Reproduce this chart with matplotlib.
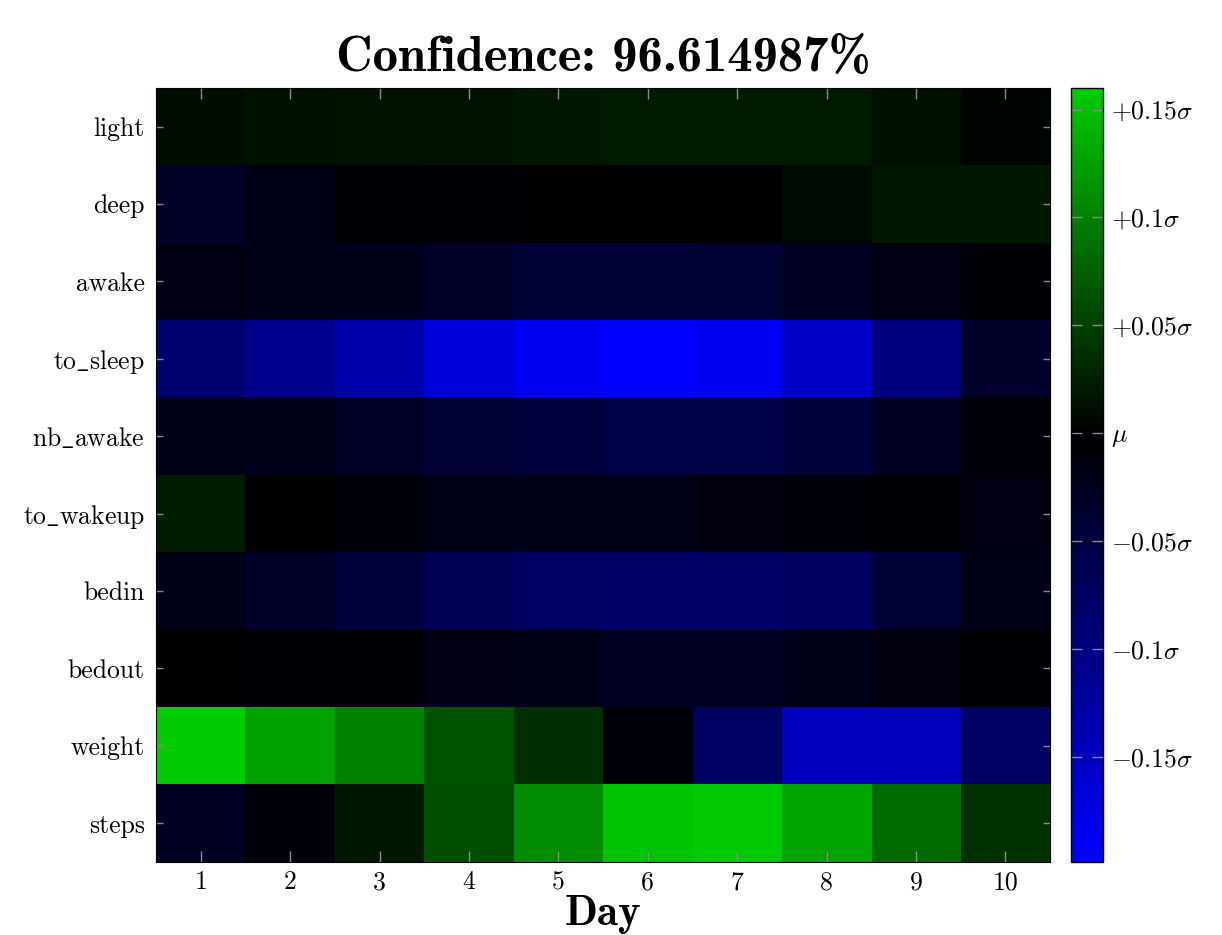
"""Sleep/activity deviation heatmap: per-feature deviation from mean over 10 days."""

import matplotlib

matplotlib.use("Agg")
import matplotlib.pyplot as plt  # noqa: E402
import numpy as np  # noqa: E402
from matplotlib.colors import LinearSegmentedColormap, Normalize  # noqa: E402

plt.rcParams["font.family"] = ["cmr10", "DejaVu Serif"]
plt.rcParams["mathtext.fontset"] = "cm"
plt.rcParams["axes.unicode_minus"] = False

TITLE = "Confidence: 96.614987%"
DAYS = [1, 2, 3, 4, 5, 6, 7, 8, 9, 10]
FEATURES = ["light", "deep", "awake", "to_sleep", "nb_awake",
            "to_wakeup", "bedin", "bedout", "weight", "steps"]

# deviation from the mean, in units of sigma (rows follow FEATURES)
light = [0.009, 0.014, 0.0155, 0.0155, 0.0195, 0.020, 0.021, 0.021, 0.014, 0.004]
deep = [-0.031, -0.017, -0.006, -0.003, -0.002, -0.002, -0.002, 0.008, 0.0195, 0.0195]
awake = [-0.014, -0.017, -0.023, -0.035, -0.043, -0.043, -0.039, -0.027, -0.014, -0.006]
to_sleep = [-0.086, -0.109, -0.133, -0.168, -0.191, -0.1986, -0.191, -0.156, -0.098, -0.035]
nb_awake = [-0.0195, -0.023, -0.030, -0.039, -0.048, -0.055, -0.055, -0.047, -0.027, -0.009]
to_wakeup = [0.022, -0.001, -0.009, -0.017, -0.020, -0.017, -0.012, -0.008, -0.003, -0.014]
bedin = [-0.017, -0.031, -0.047, -0.066, -0.078, -0.082, -0.082, -0.074, -0.043, -0.017]
bedout = [-0.002, -0.003, -0.006, -0.014, -0.0195, -0.025, -0.026, -0.023, -0.012, -0.004]
weight = [0.160, 0.125, 0.100, 0.066, 0.037, -0.008, -0.078, -0.148, -0.148, -0.078]
steps = [-0.027, -0.009, 0.0195, 0.061, 0.109, 0.152, 0.156, 0.129, 0.082, 0.039]

CBAR_TICKS = [0.15, 0.1, 0.05, 0.0, -0.05, -0.1, -0.15]
CBAR_LABELS = [r"$+0.15\sigma$", r"$+0.1\sigma$", r"$+0.05\sigma$", r"$\mu$",
               r"$-0.05\sigma$", r"$-0.1\sigma$", r"$-0.15\sigma$"]


def _tex_label(name: str) -> str:
    # cmr10 has no real underscore glyph, so go through mathtext like LaTeX's \_
    if "_" not in name:
        return name
    return "$" + r"\_".join(r"\mathrm{%s}" % p for p in name.split("_")) + "$"


def main() -> None:
    data = np.array([light, deep, awake, to_sleep, nb_awake,
                     to_wakeup, bedin, bedout, weight, steps])
    vmin, vmax = data.min(), data.max()
    m = max(abs(vmin), vmax)
    zero = -vmin / (vmax - vmin)
    cmap = LinearSegmentedColormap.from_list(
        "blue_black_green",
        [(0.0, (0, 0, abs(vmin) / m)), (zero, (0, 0, 0)), (1.0, (0, vmax / m, 0))],
    )
    norm = Normalize(vmin=vmin, vmax=vmax)

    fig = plt.figure(figsize=(12.22, 9.35), dpi=100)
    ax = fig.add_axes([0.1277, 0.0781, 0.7316, 0.8278])
    cax = fig.add_axes([0.8764, 0.0781, 0.0262, 0.8278])

    im = ax.imshow(data, cmap=cmap, norm=norm, aspect="auto", interpolation="nearest")

    ax.set_xticks(np.arange(len(DAYS)))
    ax.set_xticklabels([str(d) for d in DAYS], fontsize=18.5)
    ax.set_yticks(np.arange(len(FEATURES)))
    ax.set_yticklabels([_tex_label(f) for f in FEATURES], fontsize=18.5)
    ax.tick_params(axis="x", direction="in", length=8, width=1, color="#8a8a8a",
                   top=True, bottom=True, pad=6)
    ax.tick_params(axis="y", direction="in", length=5, width=1, color="#8a8a8a",
                   left=True, right=True, pad=8)
    ax.set_xlabel("Day", family="cmb10", fontsize=31, labelpad=1)
    ax.set_title(TITLE, family="cmb10", fontsize=36.5, pad=12)

    cb = fig.colorbar(im, cax=cax)
    cb.set_ticks(CBAR_TICKS)
    cb.set_ticklabels(CBAR_LABELS)
    cb.ax.tick_params(direction="in", length=8, width=1, color="#8a8a8a",
                      left=True, right=True, labelsize=18.5, pad=6)
    cb.outline.set_linewidth(1)

    fig.savefig("out.png")
    plt.close(fig)


if __name__ == "__main__":
    main()
